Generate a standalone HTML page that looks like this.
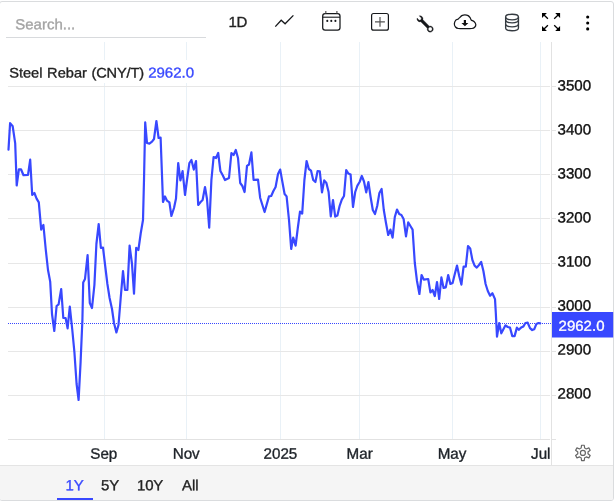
<!DOCTYPE html>
<html><head><meta charset="utf-8"><title>Steel Rebar</title>
<style>
html,body{margin:0;padding:0;background:#fff;}
body{-webkit-text-stroke:0.35px;text-rendering:geometricPrecision;width:615px;height:503px;position:relative;overflow:hidden;font-family:"Liberation Sans",Arial,Helvetica,sans-serif;color:#222;}
#card{position:absolute;left:-1px;top:0.8px;width:612.9px;height:498px;border:1.1px solid #dadcde;border-radius:3px;background:#fff;}
#search{position:absolute;left:6px;top:10px;width:200px;height:27px;border-bottom:1px solid #d8dadd;box-sizing:content-box;}
.t{position:absolute;line-height:18px;white-space:nowrap;transform-origin:50% 50%;}
#titlebg{position:absolute;left:7.6px;top:60px;width:192px;height:23px;background:#fff;}
#title{word-spacing:0.6px;font-size:14.6px;color:#222;}
#title b{font-weight:normal;color:#3848ff;font-size:15px;}
#foot{position:absolute;left:0;top:465px;width:612.8px;height:34.75px;background:#f5f5f5;border-top:1px solid #e4e4e4;box-sizing:border-box;border-radius:0 0 2px 2px;}
#ul{position:absolute;left:57px;top:497.6px;width:36px;height:2.4px;background:#3848ff;}
svg{position:absolute;left:0;top:0;}
</style></head><body>
<div id="card"></div>
<div id="foot"></div>
<svg width="615" height="503" viewBox="0 0 615 503">
<g shape-rendering="crispEdges">
<rect x="104" y="42" width="1" height="397" fill="#e9f1f7"/>
<rect x="186" y="42" width="1" height="397" fill="#e9f1f7"/>
<rect x="280" y="42" width="1" height="397" fill="#e9f1f7"/>
<rect x="359" y="42" width="1" height="397" fill="#e9f1f7"/>
<rect x="452" y="42" width="1" height="397" fill="#e9f1f7"/>
<rect x="540" y="42" width="1" height="397" fill="#e9f1f7"/>
<rect x="8" y="86" width="542" height="1" fill="#e7e7e7"/>
<rect x="552" y="86" width="4" height="1" fill="#e4e4e4"/>
<rect x="8" y="130" width="542" height="1" fill="#e7e7e7"/>
<rect x="552" y="130" width="4" height="1" fill="#e4e4e4"/>
<rect x="8" y="174" width="542" height="1" fill="#e7e7e7"/>
<rect x="552" y="174" width="4" height="1" fill="#e4e4e4"/>
<rect x="8" y="218" width="542" height="1" fill="#e7e7e7"/>
<rect x="552" y="218" width="4" height="1" fill="#e4e4e4"/>
<rect x="8" y="263" width="542" height="1" fill="#e7e7e7"/>
<rect x="552" y="263" width="4" height="1" fill="#e4e4e4"/>
<rect x="8" y="307" width="542" height="1" fill="#e7e7e7"/>
<rect x="552" y="307" width="4" height="1" fill="#e4e4e4"/>
<rect x="8" y="351" width="542" height="1" fill="#e7e7e7"/>
<rect x="552" y="351" width="4" height="1" fill="#e4e4e4"/>
<rect x="8" y="395" width="542" height="1" fill="#e7e7e7"/>
<rect x="552" y="395" width="4" height="1" fill="#e4e4e4"/>
<rect x="551" y="42" width="1" height="423" fill="#e2e2e2"/>
<rect x="8" y="439" width="542" height="1" fill="#e2e2e2"/>
<rect x="552" y="439" width="4" height="1" fill="#e2e2e2"/>
<line x1="8" y1="323.5" x2="551" y2="323.5" stroke="#3848ff" stroke-width="1" stroke-dasharray="1 1"/>
</g>
<polyline points="8.5,149.6 10.1,123.1 12.7,126.3 15.2,143.4 16.7,185.5 18.9,169.4 21,169.3 23.5,175.2 28,174.8 30.2,159.7 32.2,195 34.4,193 36.6,198.6 38.8,202.4 41.2,229.6 43.4,225 45.8,250 48,270 50.2,281.6 52,314 54.3,331 56.6,306 58.6,304.4 61.2,289 63.3,318 65.6,318 67.6,328.4 69.8,306.6 72.2,329 74.4,352 76.6,384 78.6,400 80.6,362 82.4,320 83.2,282.4 85,279 87.6,255 89.8,303 92,308 94.4,285 96.4,244 98.7,224 100.9,248 103,247.5 105.2,266 107.4,284 109.6,298 112,309 114,323 116.4,332.5 118.5,325 120.7,298 123,271 125,290 127.4,290 129.6,245.6 132,264 134,293.6 136.2,247.8 138.4,250 140.7,233.5 143,220 144,180 145.2,122.4 147,143 149.4,143.6 152,141.6 154,139 156.4,121 158.6,138 160.6,137.6 163,202 165,196.5 167,200.7 169.4,202.4 171.4,216 174,208 176,198.5 178.2,163 180.4,180.4 182.6,171 185,195 187,180 189.4,163 191.4,160 193.8,169.6 196,161 198.2,205 200.6,202 202.6,200 205,187 207,199 209.2,227.6 211.4,180 213.6,157 216,158 218.2,153 220.4,171 222.6,175 225,180 229,178 231.4,153 233.6,155 235.8,150 238,158 240.2,183 242.4,186 244.6,192 247,165.8 249,164.5 251.4,152.4 253.6,180 258,179.6 260.2,198 264.6,212 269,196.4 271.2,196 273.4,191 275.6,187 278,174 280.2,169.6 282.4,182 284.6,194 286.6,196.4 289,220 291.2,249 293.2,237.6 295.6,245.6 297.8,228 300,211.6 302.2,213.6 304.4,180 306.6,161 308.8,169 311,170.6 313.2,180 315.4,182 317.6,171 319.8,171.4 322,192.4 324.2,180.4 326.4,183 328.6,192 330.8,216.4 333,200 335.2,216.6 337.4,215.6 339.6,206 341.8,199.6 344,196 346.2,170 348.4,173.6 350.6,174.6 353,207 355.2,192 357.4,185.6 359.6,182 361.8,176 364,181.5 366.2,192.4 368.4,182 370.6,197 372.8,210 375,214 377.2,206 379.4,193 381.6,189 383.8,210 386,223 388.2,235 390.4,229.6 392.6,237.6 394.8,217 397,209.6 399.2,214 401.4,215 403.6,219 406,236.4 408.2,222.4 410.4,226 412.6,229.6 414.8,263 417,281 419.4,294 421.6,275 423.8,279.6 428.2,279 430.4,292.4 432.6,290 434.8,296 437,282 439.2,299 441.4,277.4 443.6,288 445.8,287.4 448.2,275 450.4,284 452.6,283 454.8,274 457,265.6 459.2,276 461.4,284.6 463.6,266.6 465.8,266.6 468,246 470.2,248.4 472.4,260 474.6,265.6 476.8,267.6 479,265 481.2,262 483.4,271 485.6,284 487.8,291 490.1,295.7 492.4,293.2 495,299.1 495.8,312.8 497,336.7 499.2,323 501.3,333.3 503.4,329.3 505.5,325.3 507.8,327 510,327.6 512.3,336.1 514.6,336.1 516.9,327.6 518.8,329.8 521.1,327.6 523.4,326.4 525.4,323 527.7,322.7 530,328.1 532.2,330.1 534.2,329.3 536.4,323.9 538.5,323 540.2,323.3" fill="none" stroke="#3848ff" stroke-width="2.2" stroke-linejoin="round" stroke-linecap="round"/>
<rect x="552" y="312" width="61.2" height="25.5" fill="#3848ff"/>
<polyline points="275.3,26.6 281.2,20.2 285.1,23.8 293.4,15.4" fill="none" stroke="#16181b" stroke-width="1.3"/>
<rect x="322.7" y="13.5" width="17.3" height="16.7" rx="2.4" fill="none" stroke="#16181b" stroke-width="1.25"/>
<line x1="322.7" y1="17.2" x2="340" y2="17.2" stroke="#16181b" stroke-width="1.1"/>
<line x1="325.8" y1="11.1" x2="325.8" y2="13.5" stroke="#555" stroke-width="1.2"/>
<line x1="336.9" y1="11.1" x2="336.9" y2="13.5" stroke="#555" stroke-width="1.2"/>
<circle cx="327.3" cy="20.9" r="1.05" fill="#16181b"/>
<circle cx="331.3" cy="20.9" r="1.05" fill="#16181b"/>
<circle cx="335.4" cy="20.9" r="1.05" fill="#16181b"/>
<rect x="371.6" y="13.5" width="16.8" height="16.7" rx="2" fill="none" stroke="#16181b" stroke-width="1.2"/>
<path d="M375 21.9H384.9M380 17V26.8" fill="none" stroke="#555" stroke-width="1.2"/>
<path transform="translate(416.9,15.75) scale(1.025)" fill="#16181b" stroke="#16181b" stroke-width="0.3" fill-rule="evenodd" d="M.102 2.223A3.004 3.004 0 0 0 3.78 5.897l6.341 6.252A3.003 3.003 0 0 0 13 16a3 3 0 1 0-.851-5.878L5.897 3.781A3.004 3.004 0 0 0 2.223.1l2.141 2.142L4 4l-1.757.364L.102 2.223zm13.37 9.019.528.026.287.445.445.287.026.529L15 13l-.242.471-.026.529-.445.287-.287.445-.529.026L13 15l-.471-.242-.529-.026-.287-.445-.445-.287-.026-.529L11 13l.242-.471.026-.529.445-.287.287-.445.529-.026L13 11l.471.242z"/>
<path d="M458.3 28.5C456.72 28.25 456.16 27.77 455.5 27.0C454.84 26.23 454.30 25.03 454.35 23.9C454.40 22.77 455.14 21.03 455.8 20.2C456.46 19.37 457.62 19.37 458.3 18.9C458.98 18.43 459.32 17.95 459.9 17.4C460.48 16.85 460.97 16.03 461.8 15.6C462.63 15.17 463.85 14.80 464.9 14.8C465.95 14.80 467.22 15.08 468.1 15.6C468.98 16.12 469.68 17.17 470.2 17.9C470.72 18.63 470.57 19.40 471.2 20.0C471.83 20.60 473.23 20.75 474.0 21.5C474.77 22.25 475.68 23.55 475.8 24.5C475.92 25.45 475.35 26.53 474.7 27.2C474.05 27.87 473.52 28.28 471.9 28.5C470.28 28.72 467.27 28.50 465.0 28.5C462.73 28.50 459.88 28.75 458.3 28.5Z" fill="none" stroke="#16181b" stroke-width="1.25" stroke-linejoin="round"/>
<path fill="#111" d="M463.8 20.0h2.2v3h2.4l-3.5 3.2-3.5-3.200h2.400z"/>
<ellipse cx="512.05" cy="17" rx="6.4" ry="2.8" fill="none" stroke="#343a40" stroke-width="1.35"/>
<path d="M505.65 17V27.9M518.45 17V27.9" fill="none" stroke="#343a40" stroke-width="1.35"/>
<path d="M505.65 20.0A6.4 2.8 0 0 0 518.45 20.0" fill="none" stroke="#343a40" stroke-width="1.35"/>
<path d="M505.65 24.0A6.4 2.8 0 0 0 518.45 24.0" fill="none" stroke="#343a40" stroke-width="1.35"/>
<path d="M505.65 27.9A6.4 2.8 0 0 0 518.45 27.9" fill="none" stroke="#343a40" stroke-width="1.35"/>
<path fill="#000" d="M542.0 13.0h4.9L542.0 17.9zM560.1 13.0v4.9L555.2 13.0zM542.0 31.0v-4.9L546.9 31.0zM560.1 31.0h-4.9L560.1 26.1z"/>
<path fill="none" stroke="#000" stroke-width="1.3" d="M544.0 15.0L547.9 18.7M558.1 15.0L554.2 18.7M544.0 29.0L547.9 25.2M558.1 29.0L554.2 25.2"/>
<circle cx="587.7" cy="17.0" r="1.55" fill="#000"/>
<circle cx="587.7" cy="23.0" r="1.55" fill="#000"/>
<circle cx="587.7" cy="28.9" r="1.55" fill="#000"/>
<path d="M581.14 448.06L581.55 445.27L584.25 445.27L584.66 448.06A5.15 5.15 0 0 1 586.21 448.95L588.84 447.92L590.18 450.25L587.97 452.01A5.15 5.15 0 0 1 587.97 453.79L590.18 455.55L588.84 457.88L586.21 456.85A5.15 5.15 0 0 1 584.66 457.74L584.25 460.53L581.55 460.53L581.14 457.74A5.15 5.15 0 0 1 579.59 456.85L576.96 457.88L575.62 455.55L577.83 453.79A5.15 5.15 0 0 1 577.83 452.01L575.62 450.25L576.96 447.92L579.59 448.95A5.15 5.15 0 0 1 581.14 448.06Z" fill="none" stroke="#666" stroke-width="1.2" stroke-linejoin="round"/>
<circle cx="582.9" cy="452.9" r="2.5" fill="none" stroke="#666" stroke-width="1.2"/>
</svg>
<div id="search"></div>
<div id="titlebg"></div><div class="t" id="title" style="left:9px;top:64px;transform:translate(0.20px,0.69px) rotate(0.05deg) scaleY(0.95)">Steel Rebar <span style="letter-spacing:-0.15px">(CNY/T)</span> <b style="margin-left:-0.5px">2962.0</b></div>
<div class="t" style="left:15px;top:16px;font-size:15px;color:#a4a4a4;transform:translate(0.20px,0.29px) rotate(0.05deg) scaleY(0.97);">Search...</div>
<div class="t" style="left:228px;top:14px;font-size:15px;color:#222;transform:translate(0.50px,0.10px) rotate(0.05deg) scaleY(0.97);letter-spacing:-0.3px;">1D</div>
<div class="t" style="left:558px;top:317px;font-size:15px;color:#fff;transform:translate(0.60px,0.85px) rotate(0.05deg) scaleY(0.96);">2962.0</div>
<div class="t" style="left:65px;top:477px;font-size:15px;color:#3848ff;transform:translate(0.50px,0.41px) rotate(0.05deg) scaleY(0.97);">1Y</div>
<div class="t" style="left:101px;top:477px;font-size:15px;color:#222;transform:translate(0.00px,0.41px) rotate(0.05deg) scaleY(0.97);">5Y</div>
<div class="t" style="left:137px;top:477px;font-size:15px;color:#222;transform:translate(0.10px,0.41px) rotate(0.05deg) scaleY(0.97);letter-spacing:-0.3px;">10Y</div>
<div class="t" style="left:182px;top:477px;font-size:15px;color:#222;transform:translate(0.00px,0.41px) rotate(0.05deg) scaleY(0.97);">All</div>
<div class="t" style="left:557px;top:77px;font-size:15.1px;color:#111;transform:translate(0.55px,0.62px) rotate(0.05deg) scaleY(0.985);">3500</div>
<div class="t" style="left:557px;top:121px;font-size:15.1px;color:#111;transform:translate(0.55px,0.62px) rotate(0.05deg) scaleY(0.985);">3400</div>
<div class="t" style="left:557px;top:165px;font-size:15.1px;color:#111;transform:translate(0.55px,0.62px) rotate(0.05deg) scaleY(0.985);">3300</div>
<div class="t" style="left:557px;top:209px;font-size:15.1px;color:#111;transform:translate(0.55px,0.62px) rotate(0.05deg) scaleY(0.985);">3200</div>
<div class="t" style="left:557px;top:253px;font-size:15.1px;color:#111;transform:translate(0.55px,0.62px) rotate(0.05deg) scaleY(0.985);">3100</div>
<div class="t" style="left:557px;top:297px;font-size:15.1px;color:#111;transform:translate(0.55px,0.62px) rotate(0.05deg) scaleY(0.985);">3000</div>
<div class="t" style="left:557px;top:341px;font-size:15.1px;color:#111;transform:translate(0.55px,0.62px) rotate(0.05deg) scaleY(0.985);">2900</div>
<div class="t" style="left:557px;top:385px;font-size:15.1px;color:#111;transform:translate(0.55px,0.62px) rotate(0.05deg) scaleY(0.985);">2800</div>
<div class="t" style="left:73px;top:445px;font-size:15.2px;color:#1d2228;transform:translate(0.80px,0.72px) rotate(0.05deg);width:60px;text-align:center;">Sep</div>
<div class="t" style="left:156px;top:445px;font-size:15.2px;color:#1d2228;transform:translate(0.20px,0.72px) rotate(0.05deg);width:60px;text-align:center;">Nov</div>
<div class="t" style="left:250px;top:445px;font-size:15.2px;color:#1d2228;transform:translate(0.40px,0.72px) rotate(0.05deg);width:60px;text-align:center;">2025</div>
<div class="t" style="left:329px;top:445px;font-size:15.2px;color:#1d2228;transform:translate(0.70px,0.72px) rotate(0.05deg);width:60px;text-align:center;">Mar</div>
<div class="t" style="left:422px;top:445px;font-size:15.2px;color:#1d2228;transform:translate(0.04px,0.72px) rotate(0.05deg);width:60px;text-align:center;">May</div>
<div class="t" style="left:510px;top:445px;font-size:15.2px;color:#1d2228;transform:translate(0.77px,0.72px) rotate(0.05deg);width:60px;text-align:center;">Jul</div>
<div id="ul"></div>
</body></html>
